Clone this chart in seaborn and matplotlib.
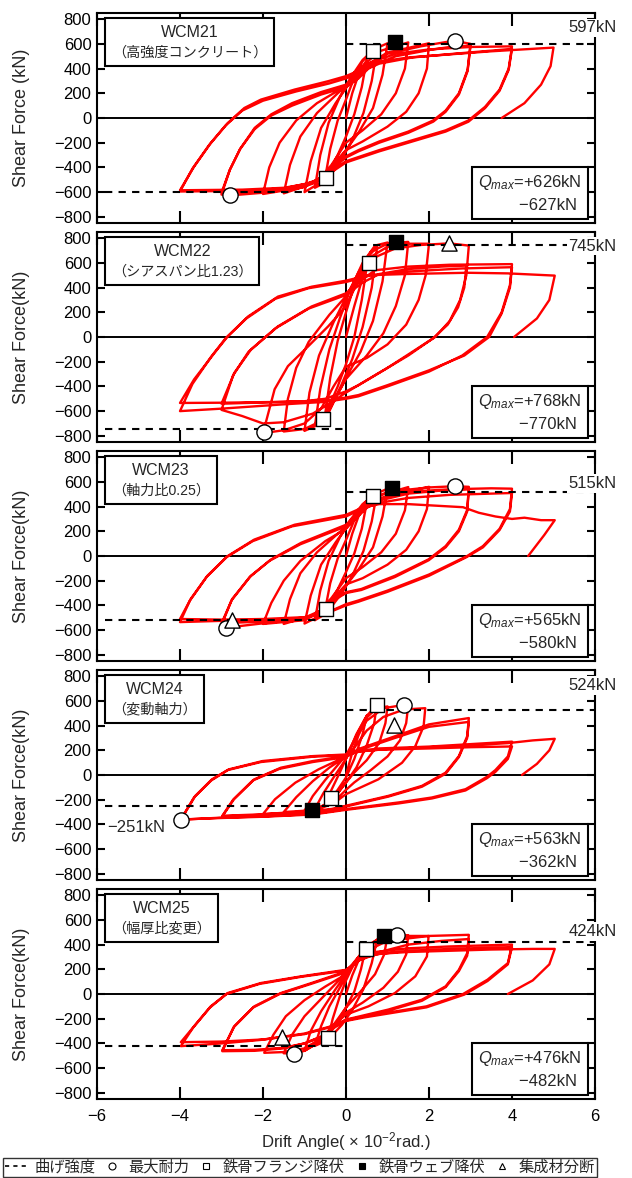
import numpy as np
import pandas as pd
import matplotlib
matplotlib.use("Agg")
import matplotlib.pyplot as plt
from matplotlib.lines import Line2D
from matplotlib.offsetbox import AnchoredOffsetbox, TextArea, VPacker
import seaborn as sns

# Hysteresis data (drift x10^-2 rad, shear force kN)
wcm21_loops = [
    [(0, 0), (0.15, 200), (0.3, 350), (0.5, 470)],
    [(0.5, 470), (0.38, 250), (0.2, 30), (0.0, -150), (-0.2, -300), (-0.35, -400), (-0.5, -480)],
    [(-0.5, -480), (-0.38, -250), (-0.2, -20), (0.0, 150), (0.2, 330), (0.4, 460), (0.6, 535), (0.75, 565)],
    [(0.75, 565), (0.62, 300), (0.42, 40), (0.15, -180), (-0.1, -330), (-0.35, -450), (-0.55, -530), (-0.75, -565)],
    [(-0.75, -565), (-0.62, -300), (-0.42, -40), (-0.15, 170), (0.1, 320), (0.4, 470), (0.7, 560), (1.0, 605)],
    [(1.0, 605), (0.88, 350), (0.65, 80), (0.3, -120), (0.0, -260), (-0.3, -400), (-0.6, -520), (-1.0, -600)],
    [(-1.0, -600), (-0.85, -350), (-0.6, -80), (-0.25, 120), (0.1, 290), (0.4, 420), (0.8, 540), (1.5, 612)],
    [(1.5, 612), (1.42, 400), (1.2, 200), (0.85, 30), (0.4, -100), (0.0, -200), (-0.35, -380), (-0.7, -520), (-1.5, -610)],
    [(-1.5, -610), (-1.35, -380), (-1.1, -150), (-0.7, 40), (-0.2, 200), (0.2, 320), (0.5, 430), (1.0, 530), (2.0, 605)],
    [(2.0, 605), (1.95, 400), (1.75, 200), (1.45, 50), (1.0, -70), (0.4, -190), (0.0, -260), (-0.3, -370), (-0.6, -480), (-1.0, -560), (-2.0, -615)],
    [(-2.0, -615), (-1.85, -400), (-1.6, -200), (-1.2, -20), (-0.7, 120), (-0.2, 220), (0.2, 310), (0.5, 420), (1.0, 520), (1.8, 580), (2.6, 626), (3.0, 600)],
    [(3.0, 600), (2.93, 390), (2.72, 200), (2.4, 60), (2.1, -20), (1.5, -110), (0.8, -190), (0.3, -260), (0.0, -310), (-0.3, -390), (-0.6, -490), (-1.2, -570), (-2.0, -605), (-2.8, -627), (-3.0, -620)],
    [(-3.0, -620), (-2.8, -420), (-2.55, -250), (-2.2, -90), (-1.8, 20), (-1.3, 100), (-0.6, 190), (0.0, 250), (0.3, 320), (0.6, 420), (1.2, 500), (2.0, 550), (2.6, 580), (3.0, 585)],
    [(3.0, 585), (2.93, 380), (2.72, 190), (2.4, 50), (2.1, -30), (1.5, -120), (0.8, -200), (0.3, -270), (0.0, -320), (-0.3, -400), (-0.6, -490), (-1.2, -560), (-2.0, -595), (-3.0, -605)],
    [(-3.0, -605), (-2.8, -420), (-2.55, -250), (-2.2, -80), (-1.8, 30), (-1.3, 120), (-0.6, 210), (0.0, 270), (0.3, 340), (0.6, 450), (1.2, 520), (2.0, 555), (3.0, 575), (4.0, 580)],
    [(4.0, 580), (3.92, 400), (3.7, 230), (3.35, 90), (2.95, -20), (2.4, -100), (1.6, -180), (0.8, -260), (0.0, -350), (-0.4, -440), (-0.8, -520), (-1.5, -570), (-2.5, -590), (-4.0, -595)],
    [(-4.0, -595), (-3.7, -410), (-3.3, -220), (-2.9, -60), (-2.5, 60), (-2.0, 140), (-1.2, 215), (-0.4, 280), (0.0, 320), (0.4, 380), (0.8, 440), (1.6, 490), (2.6, 520), (3.5, 545), (4.0, 560)],
    [(4.0, 560), (3.92, 390), (3.7, 220), (3.35, 80), (2.95, -30), (2.4, -110), (1.6, -190), (0.8, -270), (0.0, -360), (-0.4, -450), (-0.8, -525), (-1.5, -565), (-2.5, -580), (-4.0, -585)],
    [(-4.0, -585), (-3.66, -393), (-3.26, -203), (-2.85, -41), (-2.45, 81), (-2.05, 149), (-1.24, 230), (-0.43, 298), (0.0, 339), (0.37, 393), (0.7, 450), (1.5, 490), (2.5, 515), (3.5, 540), (4.5, 560), (5.0, 570)],
    [(5.0, 570), (4.93, 420), (4.7, 270), (4.3, 120), (3.75, 0)],
]

wcm22_loops = [
    [(0, 0), (0.2, 250), (0.4, 480), (0.5, 570)],
    [(0.5, 570), (0.38, 300), (0.2, 0), (0.0, -220), (-0.2, -400), (-0.38, -540), (-0.5, -620)],
    [(-0.5, -620), (-0.38, -330), (-0.2, -30), (0.0, 200), (0.2, 420), (0.45, 620), (0.75, 730)],
    [(0.75, 730), (0.62, 400), (0.4, 80), (0.15, -180), (-0.1, -380), (-0.4, -600), (-0.75, -720)],
    [(-0.75, -720), (-0.62, -420), (-0.4, -100), (-0.15, 150), (0.1, 380), (0.4, 600), (0.7, 740), (1.0, 765)],
    [(1.0, 765), (0.88, 450), (0.65, 130), (0.35, -120), (0.0, -330), (-0.35, -560), (-0.6, -700), (-1.0, -760)],
    [(-1.0, -760), (-0.88, -450), (-0.65, -150), (-0.3, 120), (0.0, 320), (0.3, 520), (0.6, 690), (1.0, 755), (1.5, 770)],
    [(1.5, 770), (1.42, 500), (1.2, 250), (0.9, 30), (0.5, -150), (0.0, -340), (-0.3, -520), (-0.6, -680), (-1.0, -745), (-1.5, -765)],
    [(-1.5, -765), (-1.4, -500), (-1.2, -250), (-0.9, -40), (-0.4, 180), (0.0, 330), (0.3, 500), (0.6, 650), (1.0, 730), (1.5, 755), (2.0, 755)],
    [(2.0, 755), (1.92, 500), (1.75, 300), (1.45, 100), (1.0, -60), (0.5, -170), (0.0, -240), (-0.3, -400), (-0.6, -580), (-1.0, -700), (-1.5, -755), (-2.0, -778)],
    [(-2.0, -778), (-1.72, -423), (-1.4, -236), (-0.91, -75), (-0.43, 86), (0.0, 247), (0.3, 461), (0.54, 622), (1.18, 716), (1.8, 745), (2.49, 758), (2.96, 740)],
    [(2.96, 740), (2.9, 500), (2.75, 300), (2.5, 130), (2.15, 0), (1.6, -120), (1.0, -250), (0.4, -370), (0.0, -450), (-0.4, -540), (-0.8, -620), (-1.5, -690), (-2.0, -700), (-2.5, -640), (-3.0, -590)],
    [(-3.0, -590), (-2.72, -310), (-2.35, -120), (-1.7, 70), (-0.9, 230), (0.0, 340), (0.4, 440), (0.8, 510), (1.5, 550), (2.3, 570), (2.9, 578)],
    [(2.9, 578), (2.85, 400), (2.7, 240), (2.45, 100), (2.1, -10), (1.5, -150), (0.9, -270), (0.3, -390), (0.0, -440), (-0.5, -500), (-1.0, -520), (-2.0, -530), (-3.0, -540)],
    [(-3.0, -540), (-2.69, -290), (-2.29, -102), (-1.64, 86), (-0.83, 247), (0.0, 354), (0.37, 461), (0.7, 540), (1.5, 570), (2.5, 585), (4.0, 590)],
    [(4.0, 590), (3.95, 420), (3.75, 200), (3.4, 0), (2.8, -150), (2.0, -280), (1.0, -400), (0.3, -480), (0.0, -500), (-0.5, -525), (-1.5, -545), (-3.0, -580), (-4.0, -600)],
    [(-4.0, -600), (-3.7, -380), (-3.25, -160), (-2.9, -10), (-2.4, 150), (-1.7, 310), (-0.9, 395), (0.0, 445), (0.6, 500), (1.5, 530), (2.8, 555), (4.0, 565)],
    [(4.0, 565), (3.95, 400), (3.75, 190), (3.45, 0), (2.85, -150), (2.0, -270), (1.0, -390), (0.3, -470), (0.0, -490), (-0.5, -515), (-1.5, -525), (-3.0, -532), (-4.0, -534)],
    [(-4.0, -534), (-3.66, -343), (-3.17, -129), (-2.85, 5), (-2.36, 166), (-1.64, 327), (-0.83, 407), (0.0, 456), (0.54, 500), (1.45, 510), (2.92, 520), (3.9, 515), (5.03, 497)],
    [(5.03, 497), (4.9, 300), (4.6, 150), (4.05, 0)],
]

wcm23_loops = [
    [(0, 0), (0.15, 180), (0.3, 320), (0.5, 430)],
    [(0.5, 430), (0.38, 220), (0.2, 20), (0.0, -130), (-0.2, -270), (-0.35, -360), (-0.5, -430)],
    [(-0.5, -430), (-0.38, -220), (-0.2, -20), (0.0, 130), (0.2, 290), (0.45, 430), (0.66, 488), (0.75, 520)],
    [(0.75, 520), (0.62, 280), (0.42, 40), (0.15, -160), (-0.1, -300), (-0.35, -410), (-0.55, -480), (-0.75, -520)],
    [(-0.75, -520), (-0.62, -280), (-0.42, -40), (-0.15, 150), (0.1, 290), (0.4, 420), (0.7, 500), (1.0, 545)],
    [(1.0, 545), (0.88, 320), (0.65, 70), (0.3, -110), (0.0, -240), (-0.3, -370), (-0.6, -480), (-1.0, -547)],
    [(-1.0, -547), (-0.85, -320), (-0.6, -70), (-0.25, 110), (0.1, 270), (0.4, 390), (0.8, 490), (1.5, 558)],
    [(1.5, 558), (1.42, 370), (1.2, 180), (0.85, 30), (0.4, -90), (0.0, -180), (-0.35, -340), (-0.7, -470), (-1.5, -550)],
    [(-1.5, -550), (-1.35, -350), (-1.1, -140), (-0.7, 30), (-0.2, 180), (0.2, 290), (0.5, 390), (1.0, 490), (2.0, 560)],
    [(2.0, 560), (1.95, 380), (1.75, 200), (1.45, 50), (1.0, -70), (0.4, -180), (0.0, -230), (-0.3, -340), (-0.6, -450), (-1.0, -520), (-2.0, -550)],
    [(-2.0, -550), (-1.8, -380), (-1.5, -200), (-1.1, -40), (-0.5, 120), (0.0, 220), (0.3, 330), (0.6, 450), (1.0, 520), (2.0, 555), (2.63, 565), (2.96, 560)],
    [(2.96, 560), (2.92, 373), (2.72, 213), (2.4, 80), (1.99, -27), (1.18, -160), (0.37, -267), (0.0, -293), (-0.27, -347), (-0.5, -430), (-1.0, -510), (-2.0, -545), (-2.88, -580), (-3.0, -560)],
    [(-3.0, -560), (-2.76, -360), (-2.32, -170), (-1.85, -40), (-1.1, 95), (0.0, 240), (0.38, 360), (0.7, 440), (1.5, 505), (2.3, 530), (2.96, 540)],
    [(2.96, 540), (2.92, 360), (2.72, 200), (2.4, 70), (1.99, -35), (1.18, -170), (0.37, -275), (0.0, -300), (-0.3, -360), (-0.6, -440), (-1.0, -500), (-2.0, -530), (-3.0, -545)],
    [(-3.0, -545), (-2.74, -347), (-2.29, -160), (-1.8, -27), (-1.08, 107), (0.0, 253), (0.38, 373), (0.7, 460), (1.5, 520), (2.5, 540), (3.5, 548), (4.0, 545)],
    [(4.0, 545), (3.95, 380), (3.7, 220), (3.3, 80), (2.92, 0), (2.0, -150), (1.0, -280), (0.3, -360), (0.0, -390), (-0.4, -450), (-1.0, -500), (-2.0, -520), (-3.0, -525), (-4.0, -535)],
    [(-4.0, -535), (-3.76, -360), (-3.36, -170), (-2.88, -10), (-2.25, 120), (-1.3, 240), (0.0, 320), (0.38, 380), (0.8, 430), (1.5, 470), (2.5, 495), (3.5, 505), (4.0, 510)],
    [(4.0, 510), (3.95, 360), (3.7, 210), (3.3, 70), (2.9, -10), (2.0, -160), (1.0, -290), (0.3, -370), (0.0, -400), (-0.4, -455), (-1.0, -495), (-2.0, -510), (-3.0, -515), (-4.0, -510)],
    [(-4.0, -510), (-3.74, -347), (-3.34, -160), (-2.85, 0), (-2.21, 133), (-1.24, 253), (0.0, 333), (0.38, 390), (0.8, 420), (1.5, 420), (2.3, 405), (2.82, 395), (3.2, 350), (3.6, 320), (4.0, 300), (4.3, 310), (4.7, 290), (5.03, 290)],
    [(5.03, 290), (4.78, 171), (4.39, 0)],
]

wcm24_loops = [
    [(0, 0), (0.15, 180), (0.3, 320), (0.5, 480)],
    [(0.5, 480), (0.4, 330), (0.2, 130), (0.0, -20), (-0.2, -120), (-0.35, -188), (-0.5, -230)],
    [(-0.5, -230), (-0.35, -120), (-0.15, 20), (0.05, 170), (0.25, 330), (0.5, 480), (0.74, 563)],
    [(0.74, 563), (0.68, 420), (0.5, 240), (0.25, 60), (0.0, -60), (-0.25, -170), (-0.5, -240), (-0.75, -275)],
    [(-0.75, -275), (-0.55, -150), (-0.3, -20), (0.0, 130), (0.2, 280), (0.45, 450), (0.74, 540), (1.0, 555)],
    [(1.0, 555), (0.95, 420), (0.8, 260), (0.5, 120), (0.2, 20), (0.0, -60), (-0.3, -190), (-0.6, -260), (-1.0, -290)],
    [(-1.0, -290), (-0.8, -170), (-0.5, -40), (-0.2, 80), (0.0, 160), (0.2, 280), (0.5, 440), (0.9, 540), (1.4, 568), (1.5, 565)],
    [(1.5, 565), (1.45, 420), (1.3, 280), (1.0, 150), (0.6, 40), (0.2, -60), (0.0, -120), (-0.3, -220), (-0.8, -285), (-1.5, -300)],
    [(-1.5, -300), (-1.2, -180), (-0.8, -50), (-0.4, 60), (0.0, 150), (0.2, 220), (0.5, 360), (0.9, 470), (1.4, 530), (1.91, 541)],
    [(1.91, 541), (1.87, 394), (1.67, 233), (1.35, 99), (0.78, -35), (0.0, -155), (-0.3, -230), (-0.7, -280), (-1.2, -300), (-2.0, -316)],
    [(-2.0, -316), (-1.71, -196), (-1.22, -62), (-0.66, 46), (0.0, 150), (0.3, 210), (1.18, 314), (2.0, 410), (2.96, 461)],
    [(2.96, 461), (2.92, 314), (2.72, 153), (2.4, 19), (1.83, -88), (1.02, -169), (0.0, -249), (-0.35, -275), (-1.0, -300), (-2.0, -318), (-2.98, -330)],
    [(-2.98, -330), (-2.72, -200), (-2.25, -45), (-1.6, 50), (-0.8, 105), (0.0, 145), (0.3, 200), (1.18, 300), (2.0, 390), (2.96, 430)],
    [(2.96, 430), (2.92, 300), (2.72, 145), (2.4, 10), (1.83, -95), (1.02, -175), (0.0, -255), (-0.35, -280), (-1.0, -305), (-2.0, -322), (-2.98, -335)],
    [(-2.98, -335), (-2.7, -196), (-2.21, -35), (-1.57, 59), (-0.8, 113), (0.0, 153), (0.3, 195), (0.8, 215), (2.0, 230), (3.0, 250), (4.0, 270)],
    [(4.0, 270), (3.9, 150), (3.6, 40), (3.4, -14), (2.88, -115), (2.07, -182), (1.27, -222), (0.0, -276), (-0.8, -316), (-2.0, -335), (-3.0, -345), (-3.98, -362)],
    [(-3.98, -362), (-3.66, -180), (-3.25, -45), (-2.85, 40), (-2.05, 105), (-0.8, 148), (0.0, 160), (0.3, 190), (0.8, 205), (2.0, 215), (3.0, 225), (4.0, 231)],
    [(4.0, 231), (3.9, 130), (3.6, 25), (3.4, -25), (2.88, -125), (2.07, -190), (1.27, -230), (0.0, -282), (-0.8, -320), (-2.0, -338), (-3.0, -348), (-3.98, -360)],
    [(-3.98, -360), (-3.63, -169), (-3.23, -35), (-2.82, 46), (-2.01, 113), (-0.8, 153), (0.0, 166), (0.38, 193), (1.0, 210), (2.0, 225), (3.0, 240), (3.9, 258), (4.5, 280), (5.03, 293)],
    [(5.03, 293), (4.9, 200), (4.6, 90), (4.24, 0)],
]

wcm25_loops = [
    [(0, 0), (0.15, 150), (0.3, 270), (0.47, 363)],
    [(0.47, 363), (0.36, 200), (0.2, 20), (0.0, -110), (-0.2, -220), (-0.35, -300), (-0.43, -355)],
    [(-0.43, -355), (-0.32, -200), (-0.15, -20), (0.0, 110), (0.2, 250), (0.45, 370), (0.75, 440)],
    [(0.75, 440), (0.62, 250), (0.42, 40), (0.15, -130), (-0.1, -250), (-0.35, -340), (-0.55, -390), (-0.75, -420)],
    [(-0.75, -420), (-0.6, -260), (-0.4, -100), (-0.1, 80), (0.2, 250), (0.5, 380), (0.75, 440), (0.92, 471), (1.0, 471)],
    [(1.0, 471), (0.92, 320), (0.7, 160), (0.35, 20), (0.0, -110), (-0.3, -250), (-0.6, -380), (-1.0, -460)],
    [(-1.0, -460), (-0.85, -300), (-0.6, -140), (-0.25, 40), (0.0, 160), (0.3, 300), (0.6, 410), (1.0, 465), (1.24, 476), (1.5, 475)],
    [(1.5, 475), (1.45, 320), (1.25, 180), (0.9, 50), (0.4, -70), (0.0, -150), (-0.3, -260), (-0.6, -380), (-1.0, -460), (-1.25, -482), (-1.5, -480)],
    [(-1.5, -480), (-1.3, -330), (-1.0, -180), (-0.6, -40), (-0.2, 100), (0.0, 180), (0.3, 300), (0.6, 400), (1.0, 455), (1.5, 470), (1.99, 470)],
    [(1.99, 470), (1.95, 304), (1.67, 143), (1.18, 8), (0.54, -100), (0.0, -167), (-0.3, -250), (-0.6, -360), (-1.0, -440), (-1.5, -470), (-1.97, -476)],
    [(-1.97, -476), (-1.75, -330), (-1.45, -180), (-1.0, -50), (-0.5, 60), (0.0, 160), (0.2, 250), (0.5, 350), (1.0, 430), (2.0, 470), (2.96, 479)],
    [(2.96, 479), (2.92, 331), (2.72, 196), (2.4, 62), (1.83, -46), (1.02, -126), (0.0, -207), (-0.27, -261), (-0.5, -330), (-1.0, -400), (-1.5, -440), (-2.2, -460), (-2.98, -463)],
    [(-2.98, -463), (-2.71, -270), (-2.24, -110), (-1.6, 0), (-0.86, 80), (0.0, 175), (0.3, 270), (0.7, 330), (1.5, 400), (2.3, 430), (2.96, 445)],
    [(2.96, 445), (2.92, 310), (2.72, 185), (2.4, 55), (1.83, -55), (1.02, -135), (0.0, -215), (-0.27, -270), (-0.5, -335), (-1.0, -400), (-1.5, -435), (-2.2, -452), (-2.98, -455)],
    [(-2.98, -455), (-2.69, -261), (-2.21, -100), (-1.57, 8), (-0.83, 89), (0.0, 183), (0.3, 280), (0.7, 340), (1.5, 370), (2.5, 385), (3.5, 395), (4.0, 400)],
    [(4.0, 400), (3.9, 250), (3.41, 116), (2.82, 0), (1.94, -100), (0.47, -180), (0.0, -210), (-0.4, -265), (-1.0, -320), (-2.0, -370), (-3.0, -400), (-3.98, -422)],
    [(-3.98, -422), (-3.68, -270), (-3.28, -110), (-2.88, 0), (-2.08, 82), (-1.1, 138), (0.0, 190), (0.3, 270), (0.7, 320), (1.5, 350), (2.5, 365), (3.5, 375), (4.0, 380)],
    [(4.0, 380), (3.9, 240), (3.41, 105), (2.85, -5), (1.94, -108), (0.47, -188), (0.0, -218), (-0.4, -270), (-1.0, -325), (-2.0, -368), (-3.0, -385), (-3.98, -390)],
    [(-3.98, -390), (-3.66, -261), (-3.26, -100), (-2.85, 8), (-2.05, 89), (-1.08, 143), (0.0, 196), (0.38, 290), (0.8, 325), (1.5, 340), (2.5, 350), (3.5, 360), (4.5, 365), (5.03, 365)],
    [(5.03, 365), (4.9, 240), (4.5, 110), (3.9, 0)],
]

specimens = ["WCM21", "WCM22", "WCM23", "WCM24", "WCM25"]
subtitles = ["（高強度コンクリート）", "（シアスパン比1.23）", "（軸力比0.25）", "（変動軸力）", "（幅厚比変更）"]
bend_pos = [597, 745, 515, 524, 424]
bend_neg = [-597, -745, -515, -251, -424]
q_pos = [626, 768, 565, 563, 476]
q_neg = [-627, -770, -580, -362, -482]

max_pts = [[(2.63, 626), (-2.8, -627)], [(-1.98, -770)], [(2.63, 565), (-2.88, -580)],
           [(1.4, 563), (-3.98, -362)], [(1.24, 476), (-1.25, -482)]]
flange_pts = [[(0.66, 545), (-0.47, -482)], [(0.56, 600), (-0.56, -662)], [(0.66, 488), (-0.49, -427)],
              [(0.74, 563), (-0.35, -188)], [(0.47, 363), (-0.43, -355)]]
web_pts = [[(1.17, 615)], [(1.2, 768)], [(1.12, 547)], [(-0.82, -281)], [(0.92, 471)]]
split_pts = [[], [(2.49, 758)], [(-2.74, -520)], [(1.15, 407)], [(-1.54, -347)]]

all_loops = [wcm21_loops, wcm22_loops, wcm23_loops, wcm24_loops, wcm25_loops]

sns.set_theme(style="white")
plt.rcParams['font.family'] = ['Liberation Sans', 'Noto Sans CJK JP']
plt.rcParams['axes.unicode_minus'] = True
plt.rcParams['mathtext.fontset'] = 'custom'
plt.rcParams['mathtext.rm'] = 'Liberation Sans'
plt.rcParams['mathtext.it'] = 'Liberation Sans:italic'

W, H = 632, 1178
fig = plt.figure(figsize=(W / 100, H / 100), dpi=100)
tops = [13, 232, 451, 670, 889]
ph = 210
label_y = [730, 734, 586, 725, 505]


def framed(children, align, loc, anchor, ax, sep, pad):
    pack = VPacker(children=children, align=align, pad=0, sep=sep)
    box = AnchoredOffsetbox(loc=loc, child=pack, pad=pad, borderpad=0, frameon=True,
                            bbox_to_anchor=anchor, bbox_transform=ax.transAxes,
                            prop=dict(size=10))
    box.patch.set_boxstyle('square,pad=0')
    box.patch.set_linewidth(1.5)
    box.patch.set_edgecolor('black')
    box.set_zorder(6)
    ax.add_artist(box)


for i in range(5):
    ax = fig.add_axes([97 / W, 1 - (tops[i] + ph) / H, 498 / W, ph / H])
    ax.set_xlim(-6, 6)
    ax.set_ylim(-850, 850)
    ax.axhline(0, color='black', lw=1.4, zorder=1)
    ax.axvline(0, color='black', lw=1.4, zorder=1)

    pts = [p for br in all_loops[i] for p in br]
    df = pd.DataFrame(pts, columns=['drift', 'force'])
    sns.lineplot(data=df, x='drift', y='force', sort=False, estimator=None,
                 color='#ff0000', lw=1.7, ax=ax, zorder=2)

    # bending strength dashed lines
    ax.plot([0, 6], [bend_pos[i], bend_pos[i]], color='black', lw=1.5,
            ls=(0, (3.5, 3)), zorder=3)
    ax.plot([-5.8, 0], [bend_neg[i], bend_neg[i]], color='black', lw=1.5,
            ls=(0, (3.5, 3)), zorder=3)

    mk = dict(edgecolor='black', linewidth=1.0, zorder=5, ax=ax, legend=False)
    if max_pts[i]:
        d = np.array(max_pts[i])
        sns.scatterplot(x=d[:, 0], y=d[:, 1], marker='o', s=120, color='white', **mk)
    if flange_pts[i]:
        d = np.array(flange_pts[i])
        sns.scatterplot(x=d[:, 0], y=d[:, 1], marker='s', s=110, color='white', **mk)
    if web_pts[i]:
        d = np.array(web_pts[i])
        sns.scatterplot(x=d[:, 0], y=d[:, 1], marker='s', s=110, color='black', **mk)
    if split_pts[i]:
        d = np.array(split_pts[i])
        sns.scatterplot(x=d[:, 0], y=d[:, 1], marker='^', s=120, color='white', **mk)

    framed([TextArea(specimens[i], textprops=dict(size=11.5)),
            TextArea(subtitles[i], textprops=dict(size=10.2))],
           'center', 'upper left', (8 / 498, 1 - 5 / 210), ax, sep=4, pad=0.5)
    framed([TextArea("$Q_{max}$=+%dkN" % q_pos[i], textprops=dict(size=12)),
            TextArea("−%dkN " % -q_neg[i], textprops=dict(size=12))],
           'right', 'lower right', (1 - 7 / 498, 4 / 210), ax, sep=4, pad=0.45)

    ax.text(0.995, label_y[i], "%dkN" % bend_pos[i], transform=ax.get_yaxis_transform(),
            ha='center', va='center', fontsize=12, zorder=10, clip_on=False,
            bbox=dict(boxstyle='square,pad=0.1', fc='white', ec='none'))
    if i == 3:
        ax.text(-5.75, -427, "−%dkN" % -bend_neg[i], ha='left', va='center', fontsize=12, zorder=6)

    ax.set_xticks(np.arange(-6, 7, 2))
    ax.set_yticks(np.arange(-800, 801, 200))
    ax.tick_params(axis='x', direction='in', length=9, width=1.5, top=True, bottom=True,
                   labelsize=12, pad=7, colors='black')
    ax.tick_params(axis='y', direction='in', length=6, width=1.5, left=True, right=True,
                   labelsize=12, pad=4, colors='black')
    for s in ax.spines.values():
        s.set_linewidth(1.5)
        s.set_color('black')
    ax.set_ylabel("Shear Force (kN)" if i == 0 else "Shear Force(kN)", fontsize=13)
    ax.yaxis.set_label_coords(-0.135, 0.5)
    if i < 4:
        ax.set_xticklabels([])
        ax.set_xlabel("")
    else:
        ax.set_xlabel("Drift Angle( × 10$^{-2}$rad.)", fontsize=12)
        ax.xaxis.set_label_coords(0.5, -0.15)

handles = [
    Line2D([], [], color='black', lw=1.2, ls=(0, (2.5, 2.5))),
    Line2D([], [], marker='o', ls='none', mfc='white', mec='black', ms=5, mew=0.8),
    Line2D([], [], marker='s', ls='none', mfc='white', mec='black', ms=5, mew=0.8),
    Line2D([], [], marker='s', ls='none', mfc='black', mec='black', ms=5, mew=0.8),
    Line2D([], [], marker='^', ls='none', mfc='white', mec='black', ms=5, mew=0.8),
]
labels = ["曲げ強度", "最大耐力", "鉄骨フランジ降伏", "鉄骨ウェブ降伏", "集成材分断"]
leg = fig.legend(handles, labels, ncol=5, loc='lower left', mode='expand',
                 bbox_to_anchor=(3 / W, 1 / H, 594 / W, 21 / H), fontsize=11,
                 frameon=True, fancybox=False, edgecolor='black', borderpad=0.15,
                 handlelength=1.6, handletextpad=0.3, columnspacing=0.5, borderaxespad=0)
leg.get_frame().set_linewidth(1.0)

fig.savefig("out.png", dpi=100, facecolor='white')
